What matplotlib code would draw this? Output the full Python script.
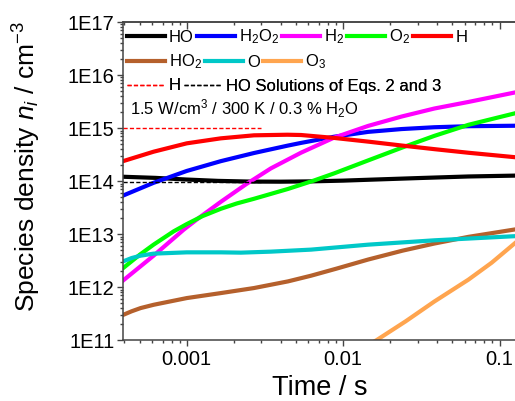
import math
import matplotlib
matplotlib.use("Agg")
import matplotlib.pyplot as plt
from matplotlib.ticker import LogLocator, FixedLocator, FuncFormatter, NullFormatter

plt.rcParams['font.family'] = ['Liberation Sans', 'DejaVu Sans']
plt.rcParams['mathtext.fontset'] = 'custom'
plt.rcParams['mathtext.rm'] = 'Liberation Sans'
plt.rcParams['mathtext.it'] = 'Liberation Sans:italic'
plt.rcParams['mathtext.bf'] = 'Liberation Sans:bold'

# ---------------- data (time in s, density in cm^-3) ----------------
t_HO = [3.93e-4, 6.31e-4, 1.0e-3, 1.585e-3, 2.51e-3, 3.98e-3, 6.31e-3, 1.0e-2, 1.585e-2, 3.16e-2, 6.31e-2, 0.13]
n_HO = [1.21e14, 1.153e14, 1.072e14, 1.012e14, 9.82e13, 9.77e13, 9.91e13, 1.023e14, 1.072e14, 1.148e14, 1.225e14, 1.274e14]

t_H2O2 = [3.93e-4, 6.14e-4, 1.0e-3, 1.65e-3, 2.69e-3, 4.40e-3, 5.38e-3, 8.75e-3, 1.445e-2, 2.36e-2, 3.83e-2, 6.32e-2, 0.13]
n_H2O2 = [5.37e13, 9.31e13, 1.556e14, 2.38e14, 3.39e14, 4.66e14, 5.26e14, 6.87e14, 8.49e14, 9.59e14, 1.038e15, 1.086e15, 1.109e15]

t_H2 = [3.93e-4, 6.14e-4, 9.57e-4, 1.18e-3, 1.65e-3, 2.39e-3, 3.45e-3, 5.38e-3, 8.75e-3, 1.445e-2, 2.36e-2, 3.83e-2, 6.32e-2, 0.13]
n_H2 = [1.35e12, 3.94e12, 1.22e13, 1.97e13, 4.07e13, 8.71e13, 1.74e14, 3.44e14, 6.61e14, 1.10e15, 1.65e15, 2.34e15, 3.11e15, 4.80e15]

t_O2 = [3.93e-4, 5.01e-4, 6.14e-4, 8.26e-4, 1.0e-3, 1.26e-3, 1.65e-3, 2.09e-3, 2.69e-3, 4.44e-3, 6.52e-3, 8.75e-3, 1.445e-2, 2.36e-2, 3.83e-2, 6.32e-2, 0.13]
n_O2 = [2.31e12, 4.11e12, 6.36e12, 1.135e13, 1.55e13, 2.19e13, 3.01e13, 3.80e13, 4.65e13, 7.13e13, 1.03e14, 1.40e14, 2.46e14, 4.25e14, 7.14e14, 1.153e15, 1.95e15]

t_H = [3.93e-4, 6.14e-4, 1.0e-3, 1.65e-3, 2.69e-3, 4.40e-3, 5.38e-3, 8.75e-3, 1.445e-2, 2.36e-2, 3.83e-2, 6.32e-2, 0.13]
n_H = [2.39e14, 3.59e14, 5.16e14, 6.41e14, 7.31e14, 7.50e14, 7.41e14, 6.53e14, 5.56e14, 4.70e14, 4.01e14, 3.43e14, 2.80e14]

t_HO2 = [3.93e-4, 4.44e-4, 5.07e-4, 6.14e-4, 7.9e-4, 1.0e-3, 1.65e-3, 2.69e-3, 4.44e-3, 6.23e-3, 9.0e-3, 1.445e-2, 2.40e-2, 3.83e-2, 6.32e-2, 0.13]
n_HO2 = [3.02e11, 3.52e11, 4.05e11, 4.67e11, 5.43e11, 6.25e11, 7.76e11, 9.66e11, 1.29e12, 1.65e12, 2.23e12, 3.33e12, 4.90e12, 6.67e12, 8.91e12, 1.25e13]

t_O = [3.93e-4, 4.44e-4, 5.07e-4, 6.14e-4, 1.0e-3, 1.65e-3, 2.22e-3, 3.45e-3, 6.23e-3, 1.445e-2, 3.83e-2, 0.13]
n_O = [3.08e12, 3.55e12, 3.94e12, 4.30e12, 4.55e12, 4.55e12, 4.49e12, 4.69e12, 5.12e12, 6.35e12, 7.67e12, 9.23e12]

t_O3 = [1.5e-2, 1.63e-2, 2.51e-2, 3.83e-2, 6.32e-2, 8.9e-2, 0.13]
n_O3 = [8.7e10, 1.0e11, 2.28e11, 5.39e11, 1.39e12, 2.90e12, 7.41e12]

# analytical solutions (Eqs. 2 and 3)
t_sol = [3.93e-4, 2.98e-3]
n_H_sol = [9.9e14, 9.9e14]
n_HO_sol = [9.5e13, 9.5e13]

labels = ['HO', 'H$_2$O$_2$', 'H$_2$', 'O$_2$', 'H', 'HO$_2$', 'O', 'O$_3$']
colors = ['#000000', '#0000FF', '#FF00FF', '#00FF00', '#FF0000', '#B5602C', '#00C8C8', '#FFA54F']
sol_labels = ['H', 'HO Solutions of Eqs. 2 and 3']
x_ticks = [1e-3, 1e-2, 1e-1]
x_ticklabels = ['0.001', '0.01', '0.1']

xlim = (3.93e-4, 0.127)
ylim = (1e11, 1e17)

# ---------------- figure ----------------
W, H = 515, 401
fig = plt.figure(figsize=(W / 100, H / 100), dpi=100)
ax = fig.add_axes([123.3 / W, (H - 340.3) / H, (515.8 - 123.3) / W, (340.3 - 22) / H])

series = [(t_HO, n_HO), (t_H2O2, n_H2O2), (t_H2, n_H2), (t_O2, n_O2), (t_H, n_H),
          (t_HO2, n_HO2), (t_O, n_O), (t_O3, n_O3)]
lines = []
for (t, n), lab, c in zip(series, labels, colors):
    ln, = ax.plot(t, n, color=c, lw=3.0, label=lab, solid_joinstyle='round')
    lines.append(ln)

lh, = ax.plot(t_sol, n_H_sol, color='#FF0000', lw=1.0, dashes=(3, 1.6))
lho, = ax.plot(t_sol, n_HO_sol, color='#000000', lw=1.0, dashes=(3, 1.6))

ax.set_xscale('log')
ax.set_yscale('log')
ax.set_xlim(*xlim)
ax.set_ylim(*ylim)

ax.xaxis.set_major_locator(FixedLocator(x_ticks))
ax.set_xticklabels(x_ticklabels)
ax.xaxis.set_minor_locator(LogLocator(base=10, subs=range(2, 10), numticks=20))
ax.xaxis.set_minor_formatter(NullFormatter())

ax.yaxis.set_major_locator(FixedLocator([10.0 ** k for k in range(11, 18)]))
ax.yaxis.set_major_formatter(FuncFormatter(lambda v, p: '1E%d' % round(math.log10(v))))
ax.yaxis.set_minor_locator(LogLocator(base=10, subs=range(2, 10), numticks=20))
ax.yaxis.set_minor_formatter(NullFormatter())

spc = '#444444'
for s in ['left', 'bottom', 'top']:
    ax.spines[s].set_color(spc)
    ax.spines[s].set_linewidth(1.1)
ax.spines['right'].set_visible(False)

ax.tick_params(which='both', direction='out', color=spc, width=1.0, top=False, right=False)
ax.tick_params(which='major', length=4.0, labelsize=14.5, pad=2.5)
ax.tick_params(which='minor', length=2.2)
ax.tick_params(axis='x', which='major', pad=3.0)

ax.set_xlabel('Time / s', fontsize=19.5, labelpad=4)
ylab = ax.set_ylabel('Species density $\\mathit{n_i}$ / cm$^{-3}$', fontsize=18.8)
ax.yaxis.set_label_coords(-0.205, 0.545)

# top axis: ticks pointing inward, no labels
axt = ax.secondary_xaxis('top')
axt.xaxis.set_major_locator(FixedLocator(x_ticks))
axt.xaxis.set_minor_locator(LogLocator(base=10, subs=range(2, 10), numticks=20))
axt.xaxis.set_major_formatter(NullFormatter())
axt.xaxis.set_minor_formatter(NullFormatter())
axt.tick_params(which='both', direction='in', color=spc, width=1.0)
axt.tick_params(which='major', length=5.0)
axt.tick_params(which='minor', length=2.5)
axt.spines['top'].set_color(spc)
axt.spines['top'].set_linewidth(1.1)

# ---------------- legends ----------------
common = dict(frameon=False, borderpad=0, borderaxespad=0, handlelength=2.3,
              handletextpad=0.22, columnspacing=0.18, fontsize=12,
              bbox_transform=fig.transFigure, loc='center left')
leg1 = ax.legend(lines[:5], labels[:5], ncol=5, bbox_to_anchor=(127 / W, 1 - 37 / H), **common)
ax.add_artist(leg1)
leg2 = ax.legend(lines[5:], labels[5:], ncol=3, bbox_to_anchor=(127 / W, 1 - 62 / H), **common)
ax.add_artist(leg2)
leg3 = ax.legend([lh, lho], sol_labels, ncol=2,
                 bbox_to_anchor=(127 / W, 1 - 86 / H), **common)
ax.add_artist(leg3)
fig.text(130 / W, 1 - 109 / H, '1.5 W/cm$^3$ / 300 K / 0.3 % H$_2$O', fontsize=12, va='center', ha='left')

# fit the y label to the extent seen in the reference (pixel rows 20..312, centred near x=27)
fig.canvas.draw()
r = fig.canvas.get_renderer()
bb = ylab.get_window_extent(r)
ylab.set_fontsize(ylab.get_fontsize() * 292.0 / bb.height)
fig.canvas.draw()
bb = ylab.get_window_extent(r)
cy_target = H - 166.0
cx_target = 27.0
inv = ax.transAxes.inverted()
cur = ax.transAxes.transform(ylab.get_position())
dx = cx_target - (bb.x0 + bb.x1) / 2
dy = cy_target - (bb.y0 + bb.y1) / 2
newpos = inv.transform((cur[0] + dx, cur[1] + dy))
ax.yaxis.set_label_coords(newpos[0], newpos[1])

fig.savefig('out.png', dpi=100)
